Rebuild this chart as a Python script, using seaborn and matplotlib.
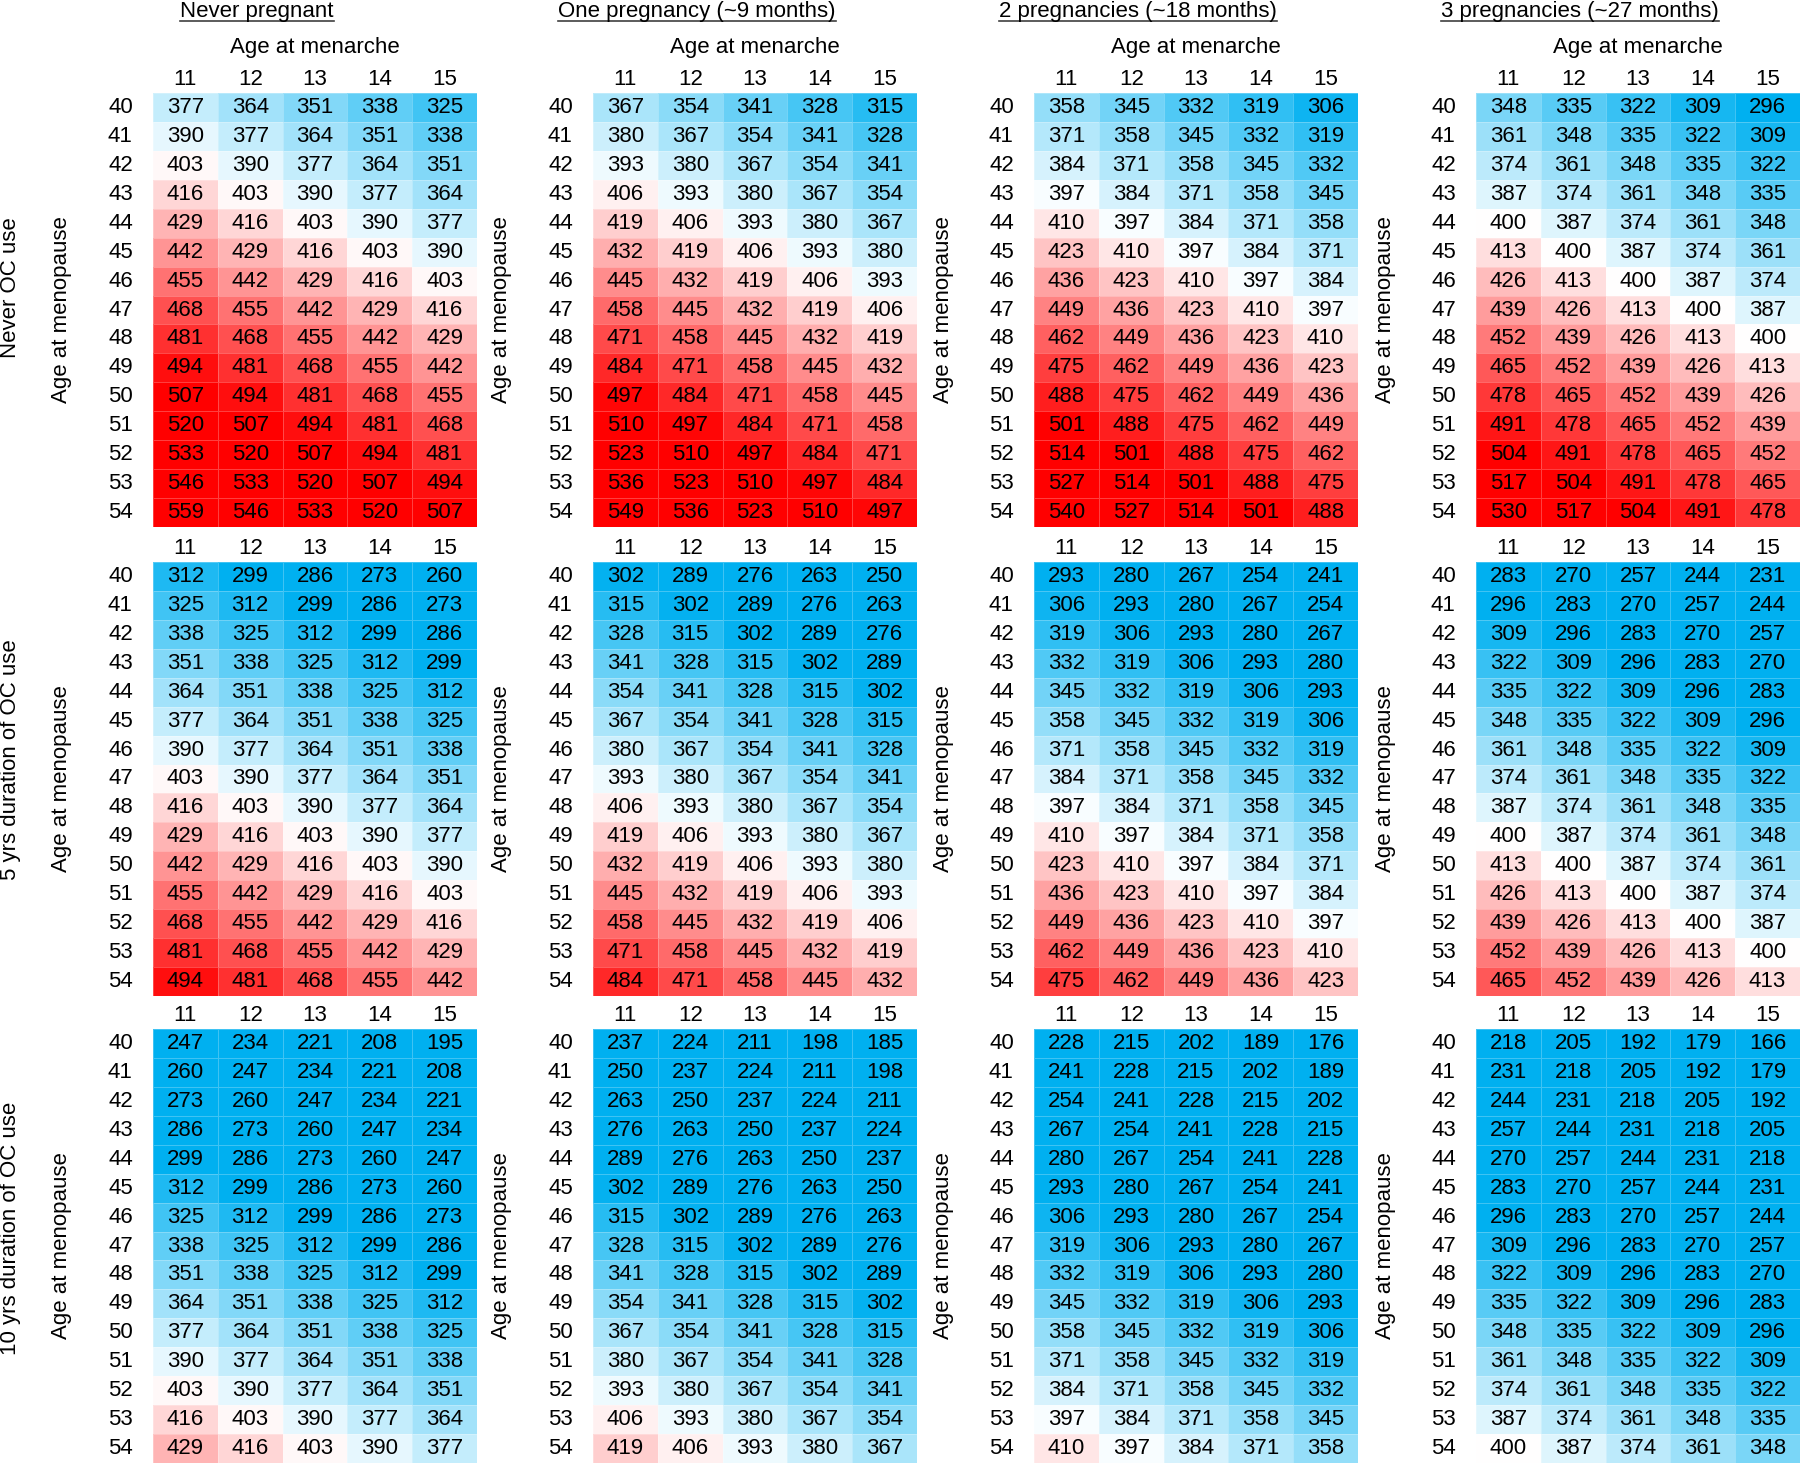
import matplotlib
matplotlib.use('Agg')
import matplotlib.pyplot as plt
import seaborn as sns
import pandas as pd
from matplotlib.colors import LinearSegmentedColormap
from matplotlib.lines import Line2D

plt.rcParams['font.family'] = 'Liberation Sans'

# axis categories
menarche = [11, 12, 13, 14, 15]
menopause = [40, 41, 42, 43, 44, 45, 46, 47, 48, 49, 50, 51, 52, 53, 54]

pregnancy_titles = ['Never pregnant', 'One pregnancy (~9 months)',
                    '2 pregnancies (~18 months)', '3 pregnancies (~27 months)']
oc_labels = ['Never OC use', '5 yrs duration of OC use', '10 yrs duration of OC use']

# --- Never OC use ---
oc0_preg0 = [[377, 364, 351, 338, 325], [390, 377, 364, 351, 338], [403, 390, 377, 364, 351],
             [416, 403, 390, 377, 364], [429, 416, 403, 390, 377], [442, 429, 416, 403, 390],
             [455, 442, 429, 416, 403], [468, 455, 442, 429, 416], [481, 468, 455, 442, 429],
             [494, 481, 468, 455, 442], [507, 494, 481, 468, 455], [520, 507, 494, 481, 468],
             [533, 520, 507, 494, 481], [546, 533, 520, 507, 494], [559, 546, 533, 520, 507]]
oc0_preg1 = [[367, 354, 341, 328, 315], [380, 367, 354, 341, 328], [393, 380, 367, 354, 341],
             [406, 393, 380, 367, 354], [419, 406, 393, 380, 367], [432, 419, 406, 393, 380],
             [445, 432, 419, 406, 393], [458, 445, 432, 419, 406], [471, 458, 445, 432, 419],
             [484, 471, 458, 445, 432], [497, 484, 471, 458, 445], [510, 497, 484, 471, 458],
             [523, 510, 497, 484, 471], [536, 523, 510, 497, 484], [549, 536, 523, 510, 497]]
oc0_preg2 = [[358, 345, 332, 319, 306], [371, 358, 345, 332, 319], [384, 371, 358, 345, 332],
             [397, 384, 371, 358, 345], [410, 397, 384, 371, 358], [423, 410, 397, 384, 371],
             [436, 423, 410, 397, 384], [449, 436, 423, 410, 397], [462, 449, 436, 423, 410],
             [475, 462, 449, 436, 423], [488, 475, 462, 449, 436], [501, 488, 475, 462, 449],
             [514, 501, 488, 475, 462], [527, 514, 501, 488, 475], [540, 527, 514, 501, 488]]
oc0_preg3 = [[348, 335, 322, 309, 296], [361, 348, 335, 322, 309], [374, 361, 348, 335, 322],
             [387, 374, 361, 348, 335], [400, 387, 374, 361, 348], [413, 400, 387, 374, 361],
             [426, 413, 400, 387, 374], [439, 426, 413, 400, 387], [452, 439, 426, 413, 400],
             [465, 452, 439, 426, 413], [478, 465, 452, 439, 426], [491, 478, 465, 452, 439],
             [504, 491, 478, 465, 452], [517, 504, 491, 478, 465], [530, 517, 504, 491, 478]]

# --- 5 yrs OC use ---
oc5_preg0 = [[312, 299, 286, 273, 260], [325, 312, 299, 286, 273], [338, 325, 312, 299, 286],
             [351, 338, 325, 312, 299], [364, 351, 338, 325, 312], [377, 364, 351, 338, 325],
             [390, 377, 364, 351, 338], [403, 390, 377, 364, 351], [416, 403, 390, 377, 364],
             [429, 416, 403, 390, 377], [442, 429, 416, 403, 390], [455, 442, 429, 416, 403],
             [468, 455, 442, 429, 416], [481, 468, 455, 442, 429], [494, 481, 468, 455, 442]]
oc5_preg1 = [[302, 289, 276, 263, 250], [315, 302, 289, 276, 263], [328, 315, 302, 289, 276],
             [341, 328, 315, 302, 289], [354, 341, 328, 315, 302], [367, 354, 341, 328, 315],
             [380, 367, 354, 341, 328], [393, 380, 367, 354, 341], [406, 393, 380, 367, 354],
             [419, 406, 393, 380, 367], [432, 419, 406, 393, 380], [445, 432, 419, 406, 393],
             [458, 445, 432, 419, 406], [471, 458, 445, 432, 419], [484, 471, 458, 445, 432]]
oc5_preg2 = [[293, 280, 267, 254, 241], [306, 293, 280, 267, 254], [319, 306, 293, 280, 267],
             [332, 319, 306, 293, 280], [345, 332, 319, 306, 293], [358, 345, 332, 319, 306],
             [371, 358, 345, 332, 319], [384, 371, 358, 345, 332], [397, 384, 371, 358, 345],
             [410, 397, 384, 371, 358], [423, 410, 397, 384, 371], [436, 423, 410, 397, 384],
             [449, 436, 423, 410, 397], [462, 449, 436, 423, 410], [475, 462, 449, 436, 423]]
oc5_preg3 = [[283, 270, 257, 244, 231], [296, 283, 270, 257, 244], [309, 296, 283, 270, 257],
             [322, 309, 296, 283, 270], [335, 322, 309, 296, 283], [348, 335, 322, 309, 296],
             [361, 348, 335, 322, 309], [374, 361, 348, 335, 322], [387, 374, 361, 348, 335],
             [400, 387, 374, 361, 348], [413, 400, 387, 374, 361], [426, 413, 400, 387, 374],
             [439, 426, 413, 400, 387], [452, 439, 426, 413, 400], [465, 452, 439, 426, 413]]

# --- 10 yrs OC use ---
oc10_preg0 = [[247, 234, 221, 208, 195], [260, 247, 234, 221, 208], [273, 260, 247, 234, 221],
              [286, 273, 260, 247, 234], [299, 286, 273, 260, 247], [312, 299, 286, 273, 260],
              [325, 312, 299, 286, 273], [338, 325, 312, 299, 286], [351, 338, 325, 312, 299],
              [364, 351, 338, 325, 312], [377, 364, 351, 338, 325], [390, 377, 364, 351, 338],
              [403, 390, 377, 364, 351], [416, 403, 390, 377, 364], [429, 416, 403, 390, 377]]
oc10_preg1 = [[237, 224, 211, 198, 185], [250, 237, 224, 211, 198], [263, 250, 237, 224, 211],
              [276, 263, 250, 237, 224], [289, 276, 263, 250, 237], [302, 289, 276, 263, 250],
              [315, 302, 289, 276, 263], [328, 315, 302, 289, 276], [341, 328, 315, 302, 289],
              [354, 341, 328, 315, 302], [367, 354, 341, 328, 315], [380, 367, 354, 341, 328],
              [393, 380, 367, 354, 341], [406, 393, 380, 367, 354], [419, 406, 393, 380, 367]]
oc10_preg2 = [[228, 215, 202, 189, 176], [241, 228, 215, 202, 189], [254, 241, 228, 215, 202],
              [267, 254, 241, 228, 215], [280, 267, 254, 241, 228], [293, 280, 267, 254, 241],
              [306, 293, 280, 267, 254], [319, 306, 293, 280, 267], [332, 319, 306, 293, 280],
              [345, 332, 319, 306, 293], [358, 345, 332, 319, 306], [371, 358, 345, 332, 319],
              [384, 371, 358, 345, 332], [397, 384, 371, 358, 345], [410, 397, 384, 371, 358]]
oc10_preg3 = [[218, 205, 192, 179, 166], [231, 218, 205, 192, 179], [244, 231, 218, 205, 192],
              [257, 244, 231, 218, 205], [270, 257, 244, 231, 218], [283, 270, 257, 244, 231],
              [296, 283, 270, 257, 244], [309, 296, 283, 270, 257], [322, 309, 296, 283, 270],
              [335, 322, 309, 296, 283], [348, 335, 322, 309, 296], [361, 348, 335, 322, 309],
              [374, 361, 348, 335, 322], [387, 374, 361, 348, 335], [400, 387, 374, 361, 348]]

panels = [[oc0_preg0, oc0_preg1, oc0_preg2, oc0_preg3],
          [oc5_preg0, oc5_preg1, oc5_preg2, oc5_preg3],
          [oc10_preg0, oc10_preg1, oc10_preg2, oc10_preg3]]

# excel-like 3 colour scale
cmap = LinearSegmentedColormap.from_list('xl3', ['#00B0F0', '#FFFFFF', '#FF0000'])

W, H = 1800, 1463
fig = plt.figure(figsize=(W / 100, H / 100), dpi=100)
col_x = [153, 593, 1034, 1476]
row_y = [93, 562, 1029]
aw, ah = 324, 434
fs = 16

for i in range(3):
    for j in range(4):
        ax = fig.add_axes([col_x[j] / W, 1 - (row_y[i] + ah) / H, aw / W, ah / H])
        df = pd.DataFrame(panels[i][j], index=menopause, columns=menarche)
        sns.heatmap(df, ax=ax, cmap=cmap, vmin=300, vmax=500, annot=True, fmt='d',
                    annot_kws={'size': fs, 'color': 'black'}, cbar=False,
                    linewidths=0.6, linecolor=(1, 1, 1, 0.25))
        ax.xaxis.tick_top()
        ax.tick_params(axis='x', length=0, pad=2, labelsize=fs)
        ax.tick_params(axis='y', length=0, pad=14.5, labelsize=fs, labelrotation=0)
        ax.set_xlabel('')
        ax.set_ylabel('')
        ax.text(-91 / aw, 0.5, 'Age at menopause', transform=ax.transAxes,
                rotation=90, ha='center', va='center', fontsize=fs)

titles = []
for j in range(4):
    cx = col_x[j] + aw / 2
    t = fig.text((cx - 58) / W, 1 - 17 / H, pregnancy_titles[j], ha='center',
                 va='baseline', fontsize=fs)
    titles.append(t)
    fig.text(cx / W, 1 - 53 / H, 'Age at menarche', ha='center', va='baseline', fontsize=fs)

row_cy = [288, 760, 1228]
for i in range(3):
    fig.text(11 / W, 1 - row_cy[i] / H, oc_labels[i], rotation=90, ha='center',
             va='center', fontsize=fs)

# underline the column titles
fig.canvas.draw()
r = fig.canvas.get_renderer()
for t in titles:
    bb = t.get_window_extent(r)
    y = 1 - 21 / H
    fig.add_artist(Line2D([bb.x0 / W, bb.x1 / W], [y, y], color='#404040', lw=1.2))

fig.savefig('out.png', dpi=100)
